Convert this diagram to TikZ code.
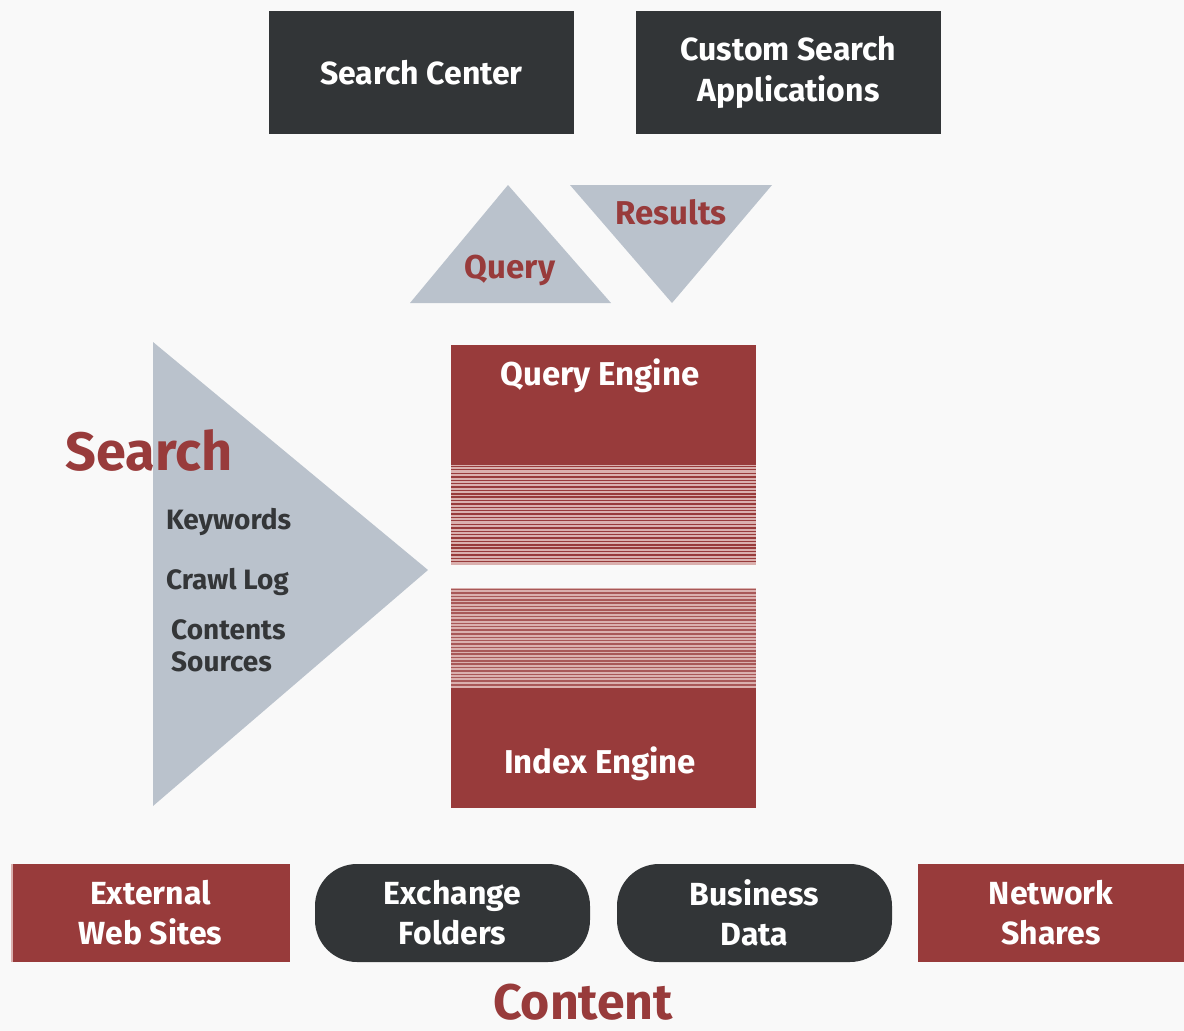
\documentclass[tikz,border=0pt]{standalone}
\usepackage{fontspec}
\setmainfont{Fira Sans}
\definecolor{bgc}{RGB}{249,249,249}
\definecolor{darkbox}{RGB}{50,53,55}
\definecolor{redbox}{RGB}{152,59,59}
\definecolor{stripelight}{RGB}{218,176,174}
\definecolor{tri}{RGB}{186,194,204}
\definecolor{txtdark}{RGB}{52,54,56}
\tikzset{
  darkrect/.style={fill=darkbox, draw=none, text=white, font=\bfseries\fontsize{32}{41}\selectfont, align=center, inner sep=0pt},
  redrect/.style={fill=redbox, draw=none, text=white, font=\bfseries\fontsize{32}{40}\selectfont, align=center, inner sep=0pt},
  pill/.style={darkrect, font=\bfseries\fontsize{32}{40}\selectfont, rounded corners=42pt},
  tritext/.style={text=redbox, font=\bfseries\fontsize{33}{38}\selectfont},
  sidetext/.style={text=txtdark, font=\bfseries\fontsize{28}{32}\selectfont, align=left, anchor=west, inner sep=0pt},
  bigred/.style={text=redbox, font=\bfseries\fontsize{54}{58}\selectfont, inner sep=0pt},
  enginetext/.style={text=white, font=\bfseries\fontsize{33}{38}\selectfont, inner sep=0pt}
}
\begin{document}
\begin{tikzpicture}[x=1pt,y=-1pt]
\fill[bgc] (0,0) rectangle (1184,1031);
\useasboundingbox (0,0) rectangle (1184,1031);

% top boxes
\node[darkrect, minimum width=305pt, minimum height=123pt] (sc) at (421.5,72.5) {Search Center};
\node[darkrect, minimum width=305pt, minimum height=123pt] (csa) at (788.5,72.5) {Custom Search\\Applications};

% query / results triangles
\fill[tri] (508,185) -- (611,303) -- (410,303) -- cycle;
\fill[tri] (570,185) -- (772,185) -- (672,303) -- cycle;
\node[tritext] (q) at (510,270) {Query};
\node[tritext] (r) at (671,212) {Results};

% big search triangle
\fill[tri] (153,342) -- (428,570) -- (153,806) -- cycle;
\node[bigred] (search) at (149,450) {Search};
\node[sidetext] (kw) at (166,522) {Keywords};
\node[sidetext] (cl) at (166,582) {Crawl Log};
\node[sidetext, align=left] (cs) at (171,646) {Contents\\Sources};

% query engine
\fill[redbox] (451,345) rectangle (756,465);
\fill[stripelight] (451,465) rectangle (756,565);
\foreach \i in {0,...,28} {
  \pgfmathsetmacro{\yy}{466.5+\i*3.4}
  \pgfmathsetmacro{\ww}{mod(\i,3)==1 ? 0.9 : 1.6}
  \draw[redbox, line width=\ww pt] (451,\yy) -- (756,\yy);
}
\node[enginetext] (qe) at (600,376) {Query Engine};

% index engine
\fill[stripelight] (451,588) rectangle (756,688);
\foreach \i in {0,...,28} {
  \pgfmathsetmacro{\yy}{589.5+\i*3.4}
  \pgfmathsetmacro{\ww}{mod(\i,3)==2 ? 1.0 : 1.7}
  \draw[redbox!85!white, line width=\ww pt] (451,\yy) -- (756,\yy);
}
\fill[redbox] (451,688) rectangle (756,808);
\node[enginetext] (ie) at (600,764) {Index Engine};

% bottom content sources
\node[redrect, minimum width=279pt, minimum height=98pt] (ews) at (150.5,913) {External\\Web Sites};
\fill[stripelight] (11,864) rectangle (13,962);
\node[pill, minimum width=275pt, minimum height=98pt] (ef) at (452.5,913) {Exchange\\Folders};
\node[pill, minimum width=275pt, minimum height=98pt] (bd) at (754.5,913) {Business\\Data};
\node[redrect, minimum width=266pt, minimum height=98pt] (ns) at (1051,913) {Network\\Shares};

\node[bigred, font=\bfseries\fontsize{50}{54}\selectfont] (content) at (583,1002) {Content};
\end{tikzpicture}
\end{document}
